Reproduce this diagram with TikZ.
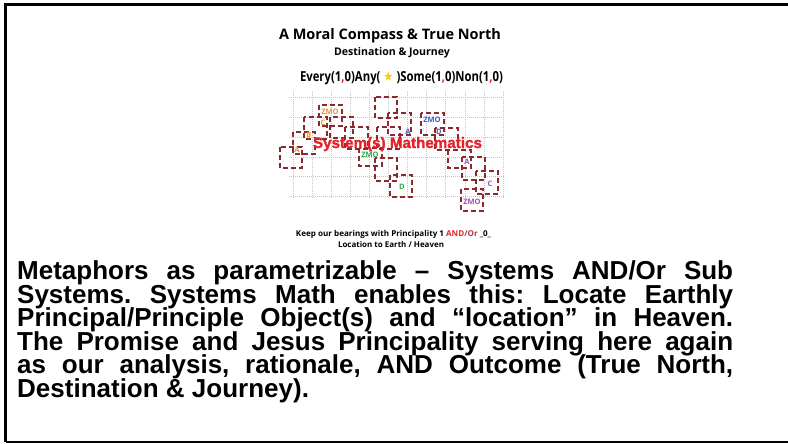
\documentclass[tikz,border=0pt]{standalone}
\usepackage{fontspec}
\setmainfont{Liberation Sans}
\newfontfamily\osans{Open Sans}
\newfontfamily\heavy[FakeBold=1.5]{Liberation Sans}
\newfontfamily\dvs{DejaVu Sans}
\definecolor{boxred}{HTML}{8B2A2E}
\definecolor{gridgray}{HTML}{C4C4C4}
\definecolor{zorange}{HTML}{F0922C}
\definecolor{zgreen}{HTML}{2FA84A}
\definecolor{zblue}{HTML}{4657C0}
\definecolor{zpurple}{HTML}{A04FB0}
\definecolor{sysred}{HTML}{E3232A}
\definecolor{starY}{HTML}{F6CB1A}
\definecolor{orred}{HTML}{B2363A}
\tikzset{
  dbox/.style={draw=boxred, line width=1.3pt, dash pattern=on 5pt off 3pt},
  gridline/.style={draw=gridgray, line width=0.7pt, dash pattern=on 1pt off 1pt},
  lab/.style={font=\osans\bfseries\fontsize{7.5}{7.5}\selectfont, inner sep=0pt},
  bigline/.style={anchor=base west, inner sep=0pt, font=\bfseries\fontsize{26}{23.5}\selectfont},
  toptext/.style={inner sep=0pt, font=\osans\bfseries, anchor=base}
}
\begin{document}
\frenchspacing
\begin{tikzpicture}[x=1pt,y=-1pt]
\useasboundingbox (0,0) rectangle (788,444);
\fill[white] (0,0) rectangle (788,444);
% frame
\draw[line width=3pt] (790,4.5) -- (5.5,4.5) -- (5.5,442);
\draw[line width=2pt] (5.5,441.5) -- (790,441.5);
% grid
\foreach \k in {0,...,11}
  \draw[gridline] ({293+19.1*\k},91) -- ({293+19.1*\k},198);
\foreach \y in {97,117,137,157,176.5,196}
  \draw[gridline] (289,\y) -- (505,\y);
% dashed boxes
\foreach \a/\b/\c/\d in {319/105/342/126, 304/117/327/139, 330/117/353/138, 293/132/315/154,
  280/147/302/168, 345/127/368/149, 359/148/382/166, 375/97/397/118, 375/158/397/181,
  390/175/412/197, 388/113/411/135, 377/127/400/149, 421/113/444/135, 435/128/458/150,
  448/150/471/168, 462/157/485/180, 476/171/498/194, 461/189/483/211}
  \draw[dbox] (\a,\b) rectangle (\c,\d);
% labels
\node[lab, text=zorange] (oz) at (330,112) {ZMO};
\node[lab, text=zorange] (oc) at (323,123) {C};
\node[lab, text=zorange] (ob) at (309,135) {B};
\node[lab, text=zorange] (oa) at (297,150) {A};
\node[lab, text=zgreen] (gz) at (370,155) {ZMO};
\node[lab, text=zgreen] (gd) at (402,187) {D};
\node[lab, text=zblue] (ba) at (408,132) {A};
\node[lab, text=zblue] (bz) at (432,120) {ZMO};
\node[lab, text=zblue] (bd) at (439,132) {D};
\node[lab, text=zpurple] (pa) at (467,162) {A};
\node[lab, text=zpurple] (pc) at (490,184) {C};
\node[lab, text=zpurple] (pz) at (472,202) {ZMO};
% system mathematics
\node[inner sep=0pt, text=sysred, anchor=base] (sys) at (397.5,148) {\resizebox{169pt}{!}{\heavy\bfseries System(s) Mathematics}};
% top texts
\node[toptext] (title) at (390,40) {\resizebox{222pt}{!}{A Moral Compass \& True North}};
\node[toptext] (sub) at (392,55.3) {\resizebox{116pt}{!}{Destination \& Journey}};
\node[toptext] (every) at (401.5,81.5) {\resizebox{203pt}{10pt}{Every(1\textcolor{sysred}{,}0)Any( {\dvs\textcolor{starY}{★}} )Some(1\textcolor{sysred}{,}0)Non(1\textcolor{sysred}{,}0)}};
\node[toptext] (keep) at (393.5,236.5) {\resizebox{195pt}{!}{Keep our bearings with Principality 1 \textcolor{sysred}{AND}\textcolor{orred}{/Or} \_0\_}};
\node[toptext] (loc) at (391,247.5) {\resizebox{106pt}{!}{Location to Earth / Heaven}};
% big text
\node[bigline] (l1) at (17,279.5) {\makebox[716pt][s]{Metaphors as parametrizable – Systems AND/Or Sub}};
\node[bigline] (l2) at (17,303) {\makebox[716pt][s]{Systems. Systems Math enables this: Locate Earthly}};
\node[bigline] (l3) at (17,326.5) {\makebox[716pt][s]{Principal/Principle Object(s) and “location” in Heaven.}};
\node[bigline] (l4) at (17,350) {\makebox[716pt][s]{The Promise and Jesus Principality serving here again}};
\node[bigline] (l5) at (17,373.5) {\makebox[716pt][s]{as our analysis, rationale, AND Outcome (True North,}};
\node[bigline] (l6) at (17,397) {Destination \& Journey).};
\end{tikzpicture}
\end{document}
